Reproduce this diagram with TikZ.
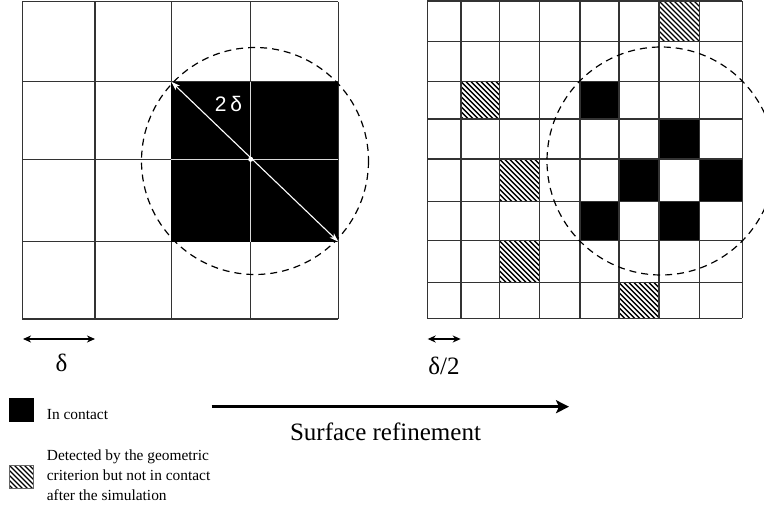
\documentclass[tikz,border=0pt]{standalone}
\usepackage{fontspec}
\setmainfont{Liberation Serif}
\newfontfamily\labsans{Liberation Sans}
\usetikzlibrary{arrows.meta}
\newcommand\hatchbox[4]{%
  \begin{scope}
    \clip (#1,#2) rectangle (#3,#4);
    \foreach \k in {-60,-55,...,60}{\draw[line width=1.4pt] ({#1+\k},#2) -- ++(60,60);}
  \end{scope}
  \draw[gridline] (#1,#2) rectangle (#3,#4);}
\begin{document}
\begin{tikzpicture}[x=1pt,y=-1pt,
  gridline/.style={line width=1.3pt, draw=black!80},
  circ/.style={dash pattern=on 7pt off 5pt, line width=1.2pt},
  dimarrow/.style={line width=1.3pt, {Stealth[length=8pt,width=7pt,inset=2.5pt]}-{Stealth[length=8pt,width=7pt,inset=2.5pt]}},
  whitearrow/.style={white, line width=1.1pt, {Stealth[length=9pt,width=6pt,inset=2.5pt]}-{Stealth[length=9pt,width=6pt,inset=2.5pt]}},
  bigarrow/.style={line width=3pt, -{Stealth[length=13pt,width=13pt,inset=3pt]}},
  dlabel/.style={font=\fontsize{25}{30}\selectfont, inner sep=0pt, anchor=base},
  legtext/.style={font=\fontsize{15.4}{19.7}\selectfont, inner sep=0pt, anchor=base west, align=left}
]
\useasboundingbox (0,0) rectangle (764,508);

% ---------- left grid ----------
\foreach \x in {22.3,95,171.3,250.7,338.3}{\draw[gridline] (\x,1.7) -- (\x,319);}
\foreach \y in {1.7,81.7,159.3,241.7,319}{\draw[gridline] (22.3,\y) -- (338.3,\y);}
\fill[black] (171.3,81.7) rectangle (338.3,241.7);
\draw[black!15, line width=1pt] (250.7,81.7) -- (250.7,241.7);
\draw[black!15, line width=1pt] (171.3,159.3) -- (338.3,159.3);
\draw[circ] (255,161) circle[radius=113.5];
\coordinate (tl) at (171.3,81.7);
\coordinate (br) at (338.3,241.7);
\draw[whitearrow] (tl) -- (br);
\fill[white] (250.7,159.3) circle[radius=2.5];
\node[white, font=\labsans\fontsize{21}{24}\selectfont, inner sep=0pt] (twod) at (228.5,104) {2\hspace{4pt}δ};

% ---------- right grid ----------
\fill[black] (580,81.7) rectangle (619,119);
\fill[black] (659,119) rectangle (699.3,159);
\fill[black] (619,159) rectangle (659,201.7);
\fill[black] (699.3,159) rectangle (742.3,201.7);
\fill[black] (580,201.7) rectangle (619,240.7);
\fill[black] (659,201.7) rectangle (699.3,240.7);
\hatchbox{659}{1}{699.3}{41.7}
\hatchbox{461}{81.7}{499.3}{119}
\hatchbox{499.3}{159}{539.7}{201.7}
\hatchbox{499.3}{240.7}{539.7}{282.7}
\hatchbox{619}{282.7}{659}{318.3}
\foreach \x in {427.3,461,499.3,539.7,580,619,659,699.3,742.3}{\draw[gridline] (\x,1) -- (\x,318.3);}
\foreach \y in {1,41.7,81.7,119,159,201.7,240.7,282.7,318.3}{\draw[gridline] (427.3,\y) -- (742.3,\y);}
\draw[circ] (661,161) circle[radius=114];

% ---------- scale marks ----------
\coordinate (d1a) at (23,339);
\coordinate (d1b) at (95,339);
\draw[dimarrow] (d1a) -- (d1b);
\node[dlabel] (dl) at (61.5,371.5) {δ};
\coordinate (d2a) at (427.7,339);
\coordinate (d2b) at (460.7,339);
\draw[dimarrow] (d2a) -- (d2b);
\node[dlabel] (dl2) at (444,374.5) {δ/2};

% ---------- refinement arrow ----------
\coordinate (ra) at (211.7,406.7);
\coordinate (rb) at (569,406.7);
\draw[bigarrow] (ra) -- (rb);
\node[dlabel] (sr) at (385.5,440.7) {Surface refinement};

% ---------- legend ----------
\fill[black] (9,398) rectangle (34,422);
\node[legtext] (l1) at (46.7,419) {In contact};
\begin{scope}
  \clip (9,465) rectangle (33,488.5);
  \foreach \k in {-40,-35,...,40}{\draw[line width=1.4pt] ({9+\k},465) -- ++(40,40);}
\end{scope}
\draw[black!60, line width=0.6pt] (9,465) rectangle (33,488.5);
\node[legtext] (l2) at (46.7,500) {Detected by the geometric\\criterion but not in contact\\after the simulation};
\end{tikzpicture}
\end{document}
